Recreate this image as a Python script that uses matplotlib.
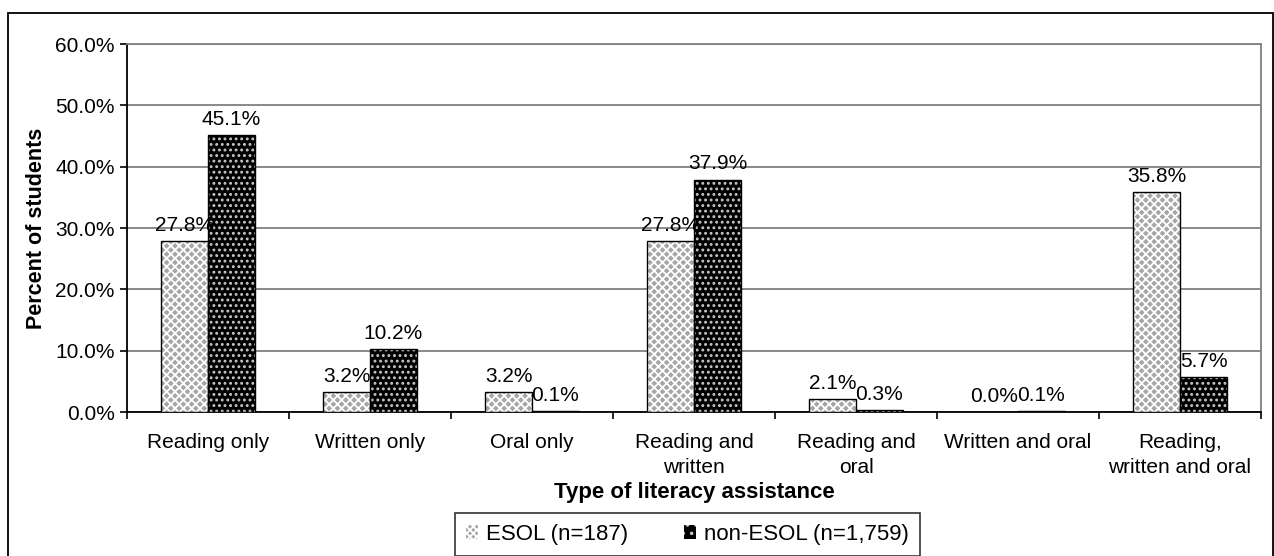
import matplotlib
matplotlib.use('Agg')
import matplotlib.pyplot as plt
from matplotlib.patches import Rectangle, Patch
import numpy as np

plt.rcParams['font.family'] = ['Liberation Sans', 'DejaVu Sans']
plt.rcParams['hatch.linewidth'] = 1.3

categories = ["Reading only", "Written only", "Oral only", "Reading and\nwritten",
              "Reading and\noral", "Written and oral", "Reading,\nwritten and oral"]
esol = [27.8, 3.2, 3.2, 27.8, 2.1, 0.0, 35.8]
non_esol = [45.1, 10.2, 0.1, 37.9, 0.3, 0.1, 5.7]
series_names = ["ESOL (n=187)", "non-ESOL (n=1,759)"]

W, H = 1274, 556
fig = plt.figure(figsize=(W / 100, H / 100), dpi=100)
ax = fig.add_axes([127 / W, 1 - 412 / H, (1261 - 127) / W, (412 - 44) / H])

x = np.arange(len(categories))
w = 0.29
esol_bg = '#a6a6a6'
dot_col = '#c8c8c8'

# ESOL: gray with white crosshatch
ax.bar(x - w / 2, esol, w, color=esol_bg, linewidth=0, zorder=3)
ax.bar(x - w / 2, esol, w, fill=False, edgecolor='white', hatch='xxxx', linewidth=0, zorder=3)
ax.bar(x - w / 2, esol, w, fill=False, edgecolor='black', linewidth=1.0, zorder=4)
# non-ESOL: black with light dots
ax.bar(x + w / 2, non_esol, w, color='black', linewidth=0, zorder=3)
ax.bar(x + w / 2, non_esol, w, fill=False, edgecolor=dot_col, hatch='...', linewidth=0, zorder=3)
ax.bar(x + w / 2, non_esol, w, fill=False, edgecolor='black', linewidth=1.0, zorder=4)

for xi, v in zip(x - w / 2, esol):
    ax.text(xi, v + 1.0, f"{v:.1f}%", ha='center', va='bottom', fontsize=15, zorder=5)
for xi, v in zip(x + w / 2, non_esol):
    ax.text(xi, v + 1.0, f"{v:.1f}%", ha='center', va='bottom', fontsize=15, zorder=5)

ax.set_xlim(-0.5, len(categories) - 0.5)
ax.set_ylim(0, 60)
ticks = np.arange(0, 61, 10)
ax.set_yticks(ticks)
ax.set_yticklabels([f"{t:.1f}%" for t in ticks], fontsize=15)
ax.yaxis.grid(True, color='#808080', linewidth=1.3, zorder=0)
ax.set_axisbelow(True)

ax.set_xticks(np.arange(-0.5, len(categories), 1.0))
ax.set_xticklabels([])
ax.set_xticks(x, minor=True)
ax.set_xticklabels(categories, minor=True, fontsize=15, linespacing=1.4)
ax.tick_params(axis='x', which='major', direction='out', length=5, width=1.2, color='black')
ax.tick_params(axis='x', which='minor', length=0, pad=15)
ax.tick_params(axis='y', direction='out', length=5, width=1.2, pad=4)

ax.spines['left'].set_color('black')
ax.spines['bottom'].set_color('black')
ax.spines['top'].set_color('#808080')
ax.spines['right'].set_color('#808080')
for s in ax.spines.values():
    s.set_linewidth(1.3)

ax.set_ylabel("Percent of students", fontsize=15.5, fontweight='bold', labelpad=6)
ax.set_xlabel("Type of literacy assistance", fontsize=16, fontweight='bold', labelpad=4)

handles = [Patch(facecolor=esol_bg, edgecolor='white', hatch='xxxxx', linewidth=0),
           Patch(facecolor='black', edgecolor=dot_col, hatch='..', linewidth=0)]
leg = fig.legend(handles, series_names, loc='center', bbox_to_anchor=(687.5 / W, 1 - 534.5 / H),
                 ncol=2, fontsize=16, frameon=True, fancybox=False, edgecolor='black',
                 handlelength=0.55, handleheight=0.55, handletextpad=0.35, columnspacing=2.5,
                 borderpad=0.5, borderaxespad=0)
leg.get_frame().set_linewidth(1.2)

fig.patches.append(Rectangle((8 / W, -0.01), 1265 / W, 1 - 13 / H + 0.01, transform=fig.transFigure,
                             fill=False, edgecolor='black', linewidth=1.3))

fig.savefig("out.png", dpi=100)
